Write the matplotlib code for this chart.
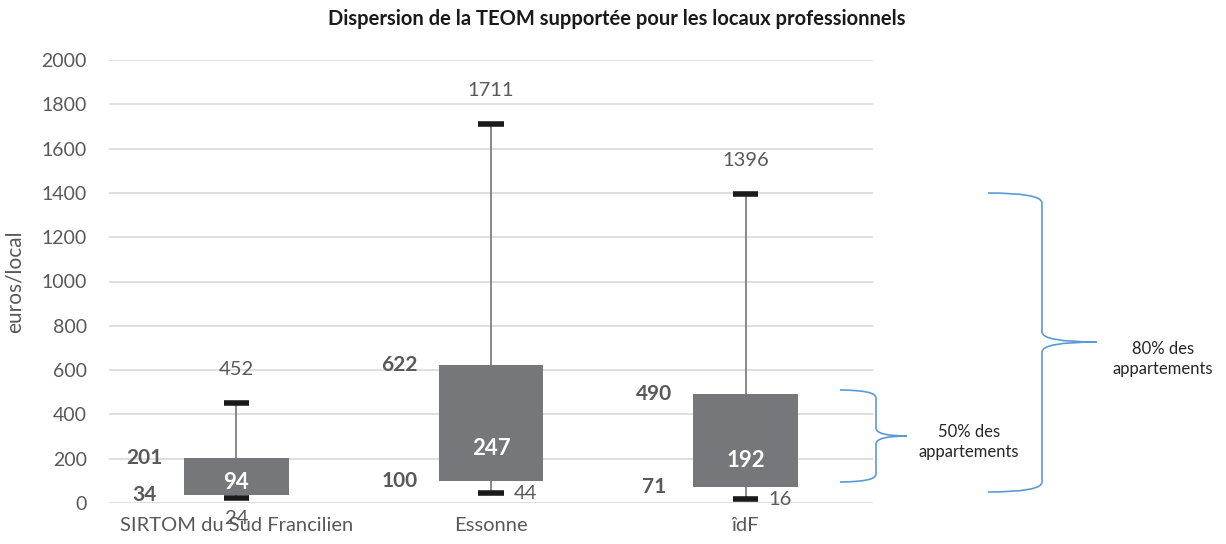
import matplotlib
matplotlib.use("Agg")
import matplotlib.pyplot as plt
from matplotlib.path import Path
from matplotlib.patches import PathPatch
import numpy as np

plt.rcParams['font.family'] = ['Lato', 'DejaVu Sans']

# Distribution of the household-waste tax per business premises
categories = ["SIRTOM du Sud Francilien", "Essonne", "îdF"]
minimum = [24, 44, 16]
q1 = [34, 100, 71]
median = [94, 247, 192]
q3 = [201, 622, 490]
maximum = [452, 1711, 1396]
min_label_side = ["below", "right", "right"]

W, H = 1226, 544
fig = plt.figure(figsize=(W / 100, H / 100), dpi=100)
ax = fig.add_axes([109 / W, 1 - 503 / H, 764 / W, 443 / H])

GRAY_TXT = "#595959"
BOX = "#76777b"
x = np.arange(len(categories))
box_w = 0.41
cap_w = 0.1

ax.set_xlim(-0.5, 2.5)
ax.set_ylim(0, 2000)
ax.set_yticks(np.arange(0, 2001, 200))
ax.yaxis.grid(True, color="#d9d9d9", linewidth=1.2)
ax.set_axisbelow(True)
for s in ax.spines.values():
    s.set_visible(False)
ax.tick_params(axis="y", length=0, labelsize=14, labelcolor=GRAY_TXT, pad=16)
ax.tick_params(axis="x", length=0, labelsize=14.5, labelcolor=GRAY_TXT, pad=10)
ax.set_xticks(x)
ax.set_xticklabels(categories)
ax.set_ylabel("euros/local", fontsize=15, color=GRAY_TXT, labelpad=12)

for i in x:
    # whiskers
    ax.vlines(i, q3[i], maximum[i], color="#7f7f7f", linewidth=1.3, zorder=2)
    ax.vlines(i, minimum[i], q1[i], color="#7f7f7f", linewidth=1.3, zorder=2)
    ax.hlines([maximum[i], minimum[i]], i - cap_w / 2, i + cap_w / 2,
              color="#1a1a1a", linewidth=4, zorder=3)
    # box Q1 -> Q3
    ax.bar(i, q3[i] - q1[i], bottom=q1[i], width=box_w, color=BOX, zorder=4)

    ax.text(i, median[i], str(median[i]), ha="center", va="center",
            fontsize=16, fontweight="bold", color="white", zorder=5)
    ax.text(i - 0.36, q3[i], str(q3[i]), ha="center", va="center",
            fontsize=15, fontweight="bold", color=GRAY_TXT)
    ax.text(i - 0.36, q1[i], str(q1[i]), ha="center", va="center",
            fontsize=15, fontweight="bold", color=GRAY_TXT)
    ax.text(i, maximum[i] + 150, str(maximum[i]), ha="center", va="center",
            fontsize=14.5, color=GRAY_TXT)
    if min_label_side[i] == "below":
        ax.text(i, minimum[i] - 95, str(minimum[i]), ha="center", va="center",
                fontsize=14.5, color=GRAY_TXT)
    else:
        ax.text(i + 0.09, minimum[i], str(minimum[i]), ha="left", va="center",
                fontsize=14.5, color=GRAY_TXT)

fig.text(617 / W, 1 - 19 / H,
         "Dispersion de la TEOM supportée pour les locaux professionnels",
         ha="center", va="center", fontsize=14.5, fontweight="bold", color="#1a1a1a")


def brace(x0, xv, xt, y_top, y_bot, y_tip, r=8):
    # curly brace opening to the left, drawn in pixel coordinates
    pts = [(x0, y_top), (xv, y_top), (xv, y_top + r),
           (xv, y_tip - r), (xv, y_tip), (xt, y_tip),
           (xt, y_tip), (xv, y_tip), (xv, y_tip + r),
           (xv, y_bot - r), (xv, y_bot), (x0, y_bot)]
    codes = [Path.MOVETO, Path.CURVE3, Path.CURVE3,
             Path.LINETO, Path.CURVE3, Path.CURVE3,
             Path.MOVETO, Path.CURVE3, Path.CURVE3,
             Path.LINETO, Path.CURVE3, Path.CURVE3]
    verts = [(px / W, 1 - py / H) for px, py in pts]
    p = PathPatch(Path(verts, codes), transform=fig.transFigure, fill=False,
                  edgecolor="#5b9bd5", linewidth=1.2)
    fig.add_artist(p)


brace(840, 876, 907, 390, 482, 436)
brace(988, 1042, 1097, 193, 492, 342, r=10)

fig.text(969 / W, 1 - 442 / H, "50% des\nappartements", ha="center", va="center",
         fontsize=12, color="#262626", linespacing=1.25)
fig.text(1163 / W, 1 - 359 / H, "80% des\nappartements", ha="center", va="center",
         fontsize=12, color="#262626", linespacing=1.25)

fig.savefig("out.png", dpi=100)
